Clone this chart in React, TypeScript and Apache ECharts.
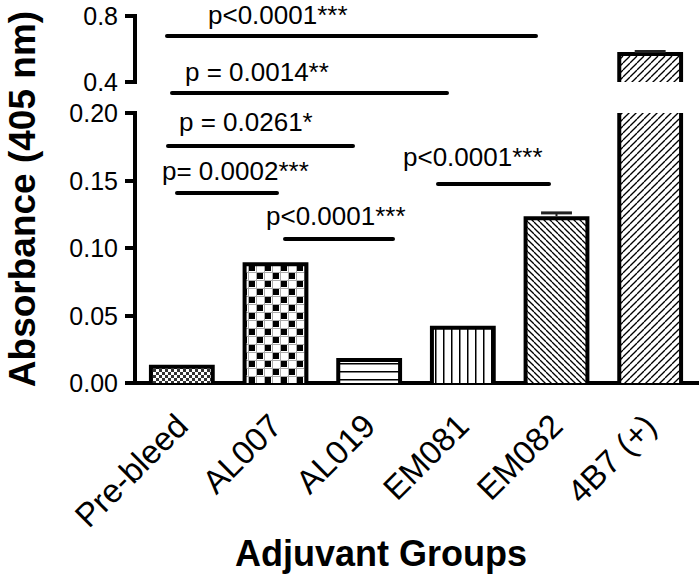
import React, { useEffect, useRef } from 'react';
import * as echarts from 'echarts';

// ---- data ----
const categories = ['Pre-bleed', 'AL007', 'AL019', 'EM081', 'EM082', '4B7 (+)'];
const absorbance = [0.012, 0.088, 0.017, 0.041, 0.122, 0.57];
const errorBars = [0, 0, 0, 0, 0.004, 0.015];
const lowerTickLabels = ['0.00', '0.05', '0.10', '0.15', '0.20'];
const upperTickLabels = ['0.4', '0.8'];
const sigLabels = ['p<0.0001***', 'p = 0.0014**', 'p = 0.0261*', 'p= 0.0002***', 'p<0.0001***', 'p<0.0001***'];
const xTitle = 'Adjuvant Groups';
const yTitle = 'Absorbance (405 nm)';

const LOWER_MIN = 0;
const LOWER_MAX = 0.2;
const LOWER_STEP = 0.05;
const UPPER_MIN = 0.4;
const UPPER_MAX = 0.8;
const UPPER_STEP = 0.4;

// ---- layout / style ----
const FONT = '"Liberation Sans", Arial, Helvetica, sans-serif';
const patternKinds = ['fineCheck', 'check', 'hlines', 'vlines', 'back', 'fwd'];
const sigLayout = [
  { x1: 167, x2: 536, ly: 36, tx: 208, ty: 15 },
  { x1: 172, x2: 447, ly: 93, tx: 185, ty: 72 },
  { x1: 168, x2: 353, ly: 146, tx: 179, ty: 122 },
  { x1: 177, x2: 277, ly: 193, tx: 162, ty: 171 },
  { x1: 285, x2: 393, ly: 239, tx: 266, ty: 216 },
  { x1: 438, x2: 549, ly: 184, tx: 403, ty: 157 },
];

function makeTile(kind: string): HTMLCanvasElement {
  const c = document.createElement('canvas');
  let s = 8;
  if (kind === 'fineCheck') s = 6;
  if (kind === 'check') s = 16;
  if (kind === 'back') s = 6;
  if (kind === 'fwd') s = 7;
  c.width = s;
  c.height = s;
  const g = c.getContext('2d')!;
  g.fillStyle = '#fff';
  g.fillRect(0, 0, s, s);
  g.fillStyle = '#000';
  g.strokeStyle = '#000';
  if (kind === 'fineCheck') {
    g.fillStyle = '#333';
    g.fillRect(0, 0, 3, 3);
    g.fillRect(3, 3, 3, 3);
  } else if (kind === 'check') {
    g.fillStyle = '#aaa';
    g.fillRect(0, 0, s, 1);
    g.fillRect(0, 8, s, 1);
    g.fillRect(0, 0, 1, s);
    g.fillRect(8, 0, 1, s);
    g.fillStyle = '#000';
    g.fillRect(1, 1, 6, 6);
    g.fillRect(9, 9, 6, 6);
  } else if (kind === 'hlines') {
    g.fillRect(0, 3, s, 1.5);
  } else if (kind === 'vlines') {
    g.fillRect(3, 0, 1.5, s);
  } else if (kind === 'back' || kind === 'fwd') {
    g.lineWidth = 1.3;
    for (let k = -1; k <= 1; k++) {
      g.beginPath();
      if (kind === 'back') {
        g.moveTo(k * s, 0);
        g.lineTo(k * s + s, s);
      } else {
        g.moveTo(k * s + s, 0);
        g.lineTo(k * s, s);
      }
      g.stroke();
    }
  }
  return c;
}

export default function App() {
  const ref = useRef<HTMLDivElement>(null);
  useEffect(() => {
    const chart = echarts.init(ref.current!, null, { renderer: 'svg' });
    const patterns = patternKinds.map((k) => ({ image: makeTile(k), repeat: 'repeat' }));
    const seriesData = categories.map((_, i) => [i, absorbance[i], errorBars[i]]);

    const border = { stroke: '#000', lineWidth: 4, fill: null, lineJoin: 'miter' };

    const errorBar = (api: any, cx: number, half: number, v: number, e: number, yTop: number) => {
      const cap = api.coord([0, v + e])[1];
      return [
        { type: 'line', shape: { x1: cx, y1: yTop, x2: cx, y2: cap }, style: { stroke: '#222', lineWidth: 2 } },
        { type: 'line', shape: { x1: cx - half * 0.5, y1: cap, x2: cx + half * 0.5, y2: cap }, style: { stroke: '#222', lineWidth: 3 } },
      ];
    };

    const lowerRender = (params: any, api: any) => {
      const i = api.value(0);
      const v = api.value(1);
      const e = api.value(2);
      const broken = v > LOWER_MAX;
      const top = Math.min(v, LOWER_MAX);
      const base = api.coord([i, LOWER_MIN]);
      const tp = api.coord([i, top]);
      const half = api.size([1, 0])[0] * 0.33;
      const cx = base[0];
      const x0 = cx - half;
      const x1 = cx + half;
      const children: any[] = [
        { type: 'rect', shape: { x: x0, y: tp[1], width: 2 * half, height: base[1] - tp[1] }, style: { fill: patterns[i] } },
      ];
      if (broken) {
        children.push({ type: 'line', shape: { x1: x0, y1: base[1], x2: x0, y2: tp[1] }, style: border });
        children.push({ type: 'line', shape: { x1: x1, y1: base[1], x2: x1, y2: tp[1] }, style: border });
      } else {
        children.push({ type: 'polyline', shape: { points: [[x0, base[1]], [x0, tp[1]], [x1, tp[1]], [x1, base[1]]] }, style: border });
        if (e > 0) children.push(...errorBar(api, cx, half, v, e, tp[1] - 2));
      }
      return { type: 'group', children };
    };

    const upperRender = (params: any, api: any) => {
      const i = api.value(0);
      const v = api.value(1);
      const e = api.value(2);
      if (v <= UPPER_MIN) return null;
      const base = api.coord([i, UPPER_MIN]);
      const tp = api.coord([i, Math.min(v, UPPER_MAX)]);
      const half = api.size([1, 0])[0] * 0.33;
      const cx = base[0];
      const x0 = cx - half;
      const x1 = cx + half;
      const children: any[] = [
        { type: 'rect', shape: { x: x0, y: tp[1], width: 2 * half, height: base[1] - tp[1] }, style: { fill: patterns[i] } },
        { type: 'polyline', shape: { points: [[x0, base[1]], [x0, tp[1]], [x1, tp[1]], [x1, base[1]]] }, style: border },
      ];
      if (e > 0) children.push(...errorBar(api, cx, half, v, e, tp[1] - 2));
      return { type: 'group', children };
    };

    const axisLineStyle = { color: '#000', width: 4, cap: 'square' };
    const graphic: any[] = [];
    sigLayout.forEach((s, k) => {
      graphic.push({
        type: 'line',
        shape: { x1: s.x1, y1: s.ly, x2: s.x2, y2: s.ly },
        style: { stroke: '#000', lineWidth: 4, lineCap: 'round' },
      });
      graphic.push({
        type: 'text',
        x: s.tx,
        y: s.ty,
        style: {
          text: sigLabels[k],
          fill: '#000',
          font: `26px ${FONT}`,
          textAlign: 'left',
          textVerticalAlign: 'middle',
        },
      });
    });
    graphic.push({
      type: 'text',
      x: 22,
      y: 199,
      rotation: Math.PI / 2,
      style: { text: yTitle, fill: '#000', font: `bold 37px ${FONT}`, textAlign: 'center', textVerticalAlign: 'middle' },
    });
    graphic.push({
      type: 'text',
      x: 381,
      y: 553,
      style: { text: xTitle, fill: '#000', font: `bold 36px ${FONT}`, textAlign: 'center', textVerticalAlign: 'middle' },
    });

    const option: any = {
      animation: false,
      backgroundColor: '#fff',
      grid: [
        { left: 135, right: 3, top: 16, height: 66 },
        { left: 135, right: 3, top: 113, height: 270 },
      ],
      xAxis: [
        { gridIndex: 0, type: 'category', data: categories, show: false },
        {
          gridIndex: 1,
          type: 'category',
          data: categories,
          axisLine: { lineStyle: axisLineStyle },
          axisTick: { alignWithLabel: true, length: 12, lineStyle: { color: '#000', width: 4 } },
          axisLabel: { rotate: 45, color: '#000', fontSize: 33, fontFamily: FONT, margin: 37, interval: 0 },
        },
      ],
      yAxis: [
        {
          gridIndex: 0,
          type: 'value',
          min: UPPER_MIN,
          max: UPPER_MAX,
          interval: UPPER_STEP,
          splitLine: { show: false },
          axisLine: { show: true, lineStyle: axisLineStyle },
          axisTick: { show: true, length: 10, lineStyle: { color: '#000', width: 4 } },
          axisLabel: {
            color: '#000',
            fontSize: 25,
            fontFamily: FONT,
            margin: 17,
            formatter: (v: number) => upperTickLabels[Math.round((v - UPPER_MIN) / UPPER_STEP)] ?? '',
          },
        },
        {
          gridIndex: 1,
          type: 'value',
          min: LOWER_MIN,
          max: LOWER_MAX,
          interval: LOWER_STEP,
          splitLine: { show: false },
          axisLine: { show: true, lineStyle: axisLineStyle },
          axisTick: { show: true, length: 10, lineStyle: { color: '#000', width: 4 } },
          axisLabel: {
            color: '#000',
            fontSize: 25,
            fontFamily: FONT,
            margin: 17,
            formatter: (v: number) => lowerTickLabels[Math.round((v - LOWER_MIN) / LOWER_STEP)] ?? '',
          },
        },
      ],
      series: [
        {
          type: 'custom',
          xAxisIndex: 0,
          yAxisIndex: 0,
          clip: false,
          encode: { x: 0, y: 1 },
          data: seriesData,
          renderItem: upperRender,
        },
        {
          type: 'custom',
          xAxisIndex: 1,
          yAxisIndex: 1,
          clip: false,
          encode: { x: 0, y: 1 },
          data: seriesData,
          renderItem: lowerRender,
        },
      ],
      graphic,
    };
    chart.setOption(option);
    return () => chart.dispose();
  }, []);
  return <div ref={ref} style={{ position: 'fixed', left: 0, top: 0, width: 700, height: 579 }} />;
}
